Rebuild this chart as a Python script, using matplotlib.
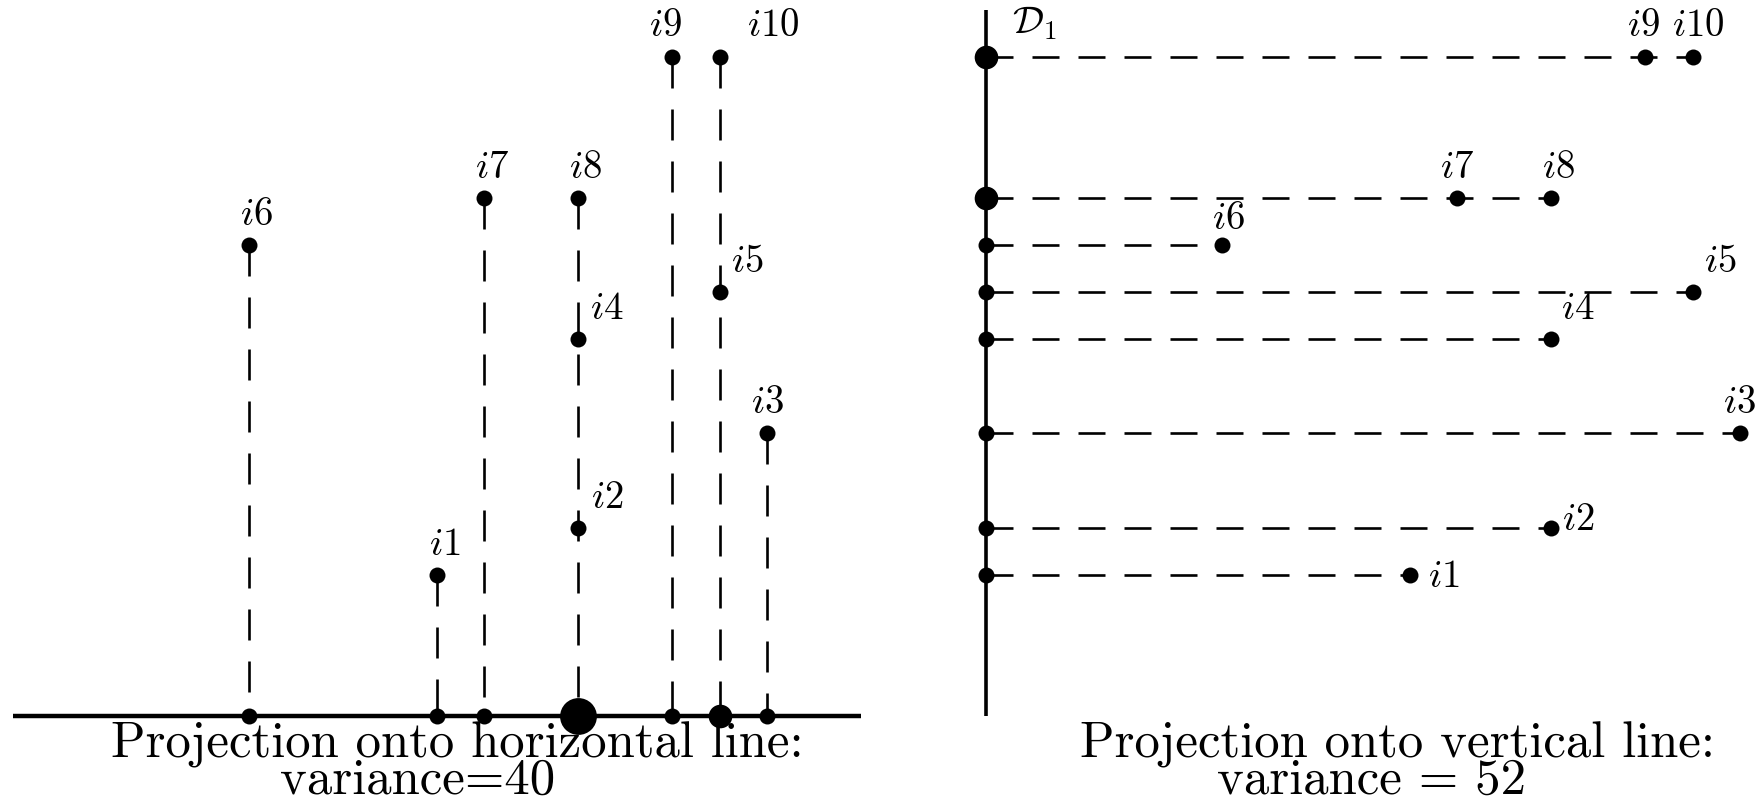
import matplotlib.pyplot as plt
from collections import Counter

plt.rcParams['mathtext.fontset'] = 'cm'
plt.rcParams['lines.scale_dashes'] = False

# --- data: ten points i1..i10 ---
names = ['i1', 'i2', 'i3', 'i4', 'i5', 'i6', 'i7', 'i8', 'i9', 'i10']
xs = [5, 8, 12, 8, 11, 1, 6, 8, 10, 11]
ys = [3, 4, 6, 8, 9, 10, 11, 11, 14, 14]

axis_x = -4          # x position of the vertical line D1
h_line = (-4, 14)    # extent of the horizontal line
v_line = (0, 15)     # extent of the vertical line

title_h = ['Projection onto horizontal line:', 'variance=40']
title_v = ['Projection onto vertical line:', 'variance = 52']

# --- styles ---
PX = 72 / 100.0                       # px -> pt at dpi 100
dot_size = {1: 11.5, 2: 17.0, 3: 26.5}
dash_v = (31 * PX, 21 * PX)
dash_h = (27 * PX, 19 * PX)
label_fs = 28
title_fs = 36.6

# label offsets (px) for each point in both panels
off_left = [(8, 20), (29, 20), (1, 20), (29, 20), (28, 20),
            (8, 20), (8, 20), (7, 20), (-7, 21), (54, 21)]
off_right = [(34, -12), (27, -2), (0, 20), (27, 20), (28, 20),
             (7, 16), (0, 20), (7, 20), (-2, 21), (6, 21)]

fig = plt.figure(figsize=(17.63, 7.99), dpi=100)
W, H = 1763.0, 799.0
unit = 47.1
y0_px = 716.0
ylim = (-(H - y0_px) / unit, y0_px / unit)

ax1 = fig.add_axes([0, 0, 900 / W, 1])
ax1.set_xlim(1 - 248.5 / unit, 1 + (900 - 248.5) / unit)
ax1.set_ylim(*ylim)

ax2 = fig.add_axes([900 / W, 0, 863 / W, 1])
ax2.set_xlim(axis_x - 86 / unit, axis_x + 777 / unit)
ax2.set_ylim(*ylim)

for ax in (ax1, ax2):
    ax.axis('off')

# left panel: project onto horizontal line
ax1.plot(h_line, [0, 0], color='black', lw=3.2, solid_capstyle='butt', zorder=2)
# one dashed drop line per column, from its highest point
tops = {}
for x, y in zip(xs, ys):
    tops[x] = max(tops.get(x, y), y)
for x, top in tops.items():
    ax1.plot([x, x], [top, 0], color='black', lw=1.9, ls=(0, dash_v), zorder=1)
ax1.plot(xs, ys, 'o', color='black', ms=dot_size[1], mew=0, zorder=3)
for x, n in Counter(xs).items():
    ax1.plot(x, 0, 'o', color='black', ms=dot_size[n], mew=0, zorder=3)
for name, x, y, (dx, dy) in zip(names, xs, ys, off_left):
    ax1.annotate('$%s$' % name, (x, y), xytext=(dx * PX, dy * PX),
                 textcoords='offset points', ha='center', va='baseline',
                 fontsize=label_fs, annotation_clip=False)

# right panel: project onto vertical line
ax2.plot([axis_x, axis_x], v_line, color='black', lw=2.6, solid_capstyle='butt', zorder=2)
rights = {}
for x, y in zip(xs, ys):
    rights[y] = max(rights.get(y, x), x)
for y, right in rights.items():
    ax2.plot([axis_x, right], [y, y], color='black', lw=1.9, ls=(0, dash_h), zorder=1)
ax2.plot(xs, ys, 'o', color='black', ms=dot_size[1], mew=0, zorder=3, clip_on=False)
for y, n in Counter(ys).items():
    ax2.plot(axis_x, y, 'o', color='black', ms=dot_size[n], mew=0, zorder=3)
for name, x, y, (dx, dy) in zip(names, xs, ys, off_right):
    ax2.annotate('$%s$' % name, (x, y), xytext=(dx * PX, dy * PX),
                 textcoords='offset points', ha='center', va='baseline',
                 fontsize=label_fs, annotation_clip=False)
ax2.text(axis_x + 26 / unit, (y0_px - 33) / unit, r'$\mathcal{D}_1$',
         ha='left', va='baseline', fontsize=label_fs)

# captions under each panel
base1 = -(757 - y0_px) / unit
base2 = -(794 - y0_px) / unit
ax1.text(1 + (457 - 248.5) / unit, base1, title_h[0], family='cmr10',
         fontsize=title_fs, ha='center', va='baseline', zorder=0)
ax1.text(1 + (418 - 248.5) / unit, base2, title_h[1], family='cmr10',
         fontsize=title_fs, ha='center', va='baseline', zorder=0)
ax2.text(axis_x + (1397 - 986) / unit, base1, title_v[0], family='cmr10',
         fontsize=title_fs, ha='center', va='baseline', zorder=0)
ax2.text(axis_x + (1372 - 986) / unit, base2, title_v[1], family='cmr10',
         fontsize=title_fs, ha='center', va='baseline', zorder=0)

fig.savefig('out.png', dpi=100)
